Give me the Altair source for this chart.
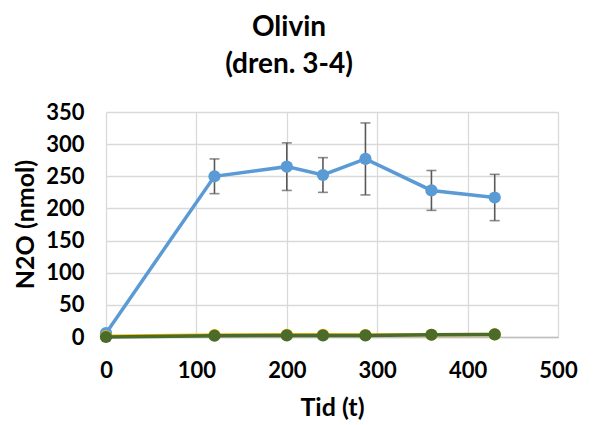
import altair as alt
import pandas as pd

time = [0, 120, 200, 240, 287, 360, 430]
blue = [6, 250, 265, 252, 277, 228, 217]
blue_err = [0, 27, 37, 27, 56, 31, 36]
yellow = [1, 3, 3.5, 3.5, 3, 3.5, 4]
green = [0, 2, 2.5, 2.5, 2.5, 3.5, 4]

df_blue = pd.DataFrame({"t": time, "v": blue,
                        "lo": [v - e for v, e in zip(blue, blue_err)],
                        "hi": [v + e for v, e in zip(blue, blue_err)]})
df_err = df_blue[[e > 0 for e in blue_err]]
df_yellow = pd.DataFrame({"t": time, "v": yellow})
df_green = pd.DataFrame({"t": time, "v": green})

FONT = "Lato"
x_scale = alt.Scale(domain=[0, 500], nice=False)
y_scale = alt.Scale(domain=[0, 350], nice=False)
x_axis = alt.Axis(values=[0, 100, 200, 300, 400, 500], title="Tid (t)",
                  titleX=226, titleY=70, titleBaseline="middle", titleAlign="center")
y_axis = alt.Axis(values=list(range(0, 351, 50)), title="N2O (nmol)",
                  titleX=-81, titleY=112, titleAngle=-90,
                  titleBaseline="middle", titleAlign="center")


def X(f):
    return alt.X(f, scale=x_scale, axis=x_axis)


def Y(f):
    return alt.Y(f, scale=y_scale, axis=y_axis)


rule = alt.Chart(df_err).mark_rule(color="#595959", strokeWidth=1.6).encode(
    x=X("t:Q"), y=Y("lo:Q"), y2="hi:Q")
cap_lo = alt.Chart(df_err).mark_tick(color="#595959", orient="horizontal", size=10, thickness=1.6).encode(
    x=X("t:Q"), y=Y("lo:Q"))
cap_hi = alt.Chart(df_err).mark_tick(color="#595959", orient="horizontal", size=10, thickness=1.6).encode(
    x=X("t:Q"), y=Y("hi:Q"))


def series(df, color):
    base = alt.Chart(df).encode(x=X("t:Q"), y=Y("v:Q"))
    return base.mark_line(color=color, strokeWidth=3.5) + \
        base.mark_point(color=color, filled=True, opacity=1, size=150)


chart = alt.layer(
    rule, cap_lo, cap_hi,
    series(df_blue, "#5b9bd5"),
    series(df_yellow, "#ffc000"),
    series(df_green, "#4a6b2a"),
).properties(
    width=452, height=225,
    autosize=alt.AutoSizeParams(type="none"),
    padding={"left": 98, "top": 104, "right": 27, "bottom": 88},
    title=alt.TitleParams(text=["Olivin", "(dren. 3-4)"], fontSize=28, font=FONT,
                          fontWeight="bold", color="#000000", anchor="middle",
                          dx=-43, offset=22, lineHeight=37),
).configure_view(stroke=None).configure_axis(
    labelFont=FONT, labelFontSize=22, labelFontWeight="bold", labelColor="#000000",
    titleFont=FONT, titleFontSize=25, titleFontWeight="bold", titleColor="#000000",
    gridColor="#d9d9d9", gridWidth=1.3, ticks=False, domain=False,
    labelOverlap=False, labelFlush=False,
).configure_axisX(labelPadding=23, domain=True, domainColor="#bfbfbf", domainWidth=1.3
).configure_axisY(labelPadding=22)

chart.save("out.html", embed_options={"renderer": "svg", "actions": False})
